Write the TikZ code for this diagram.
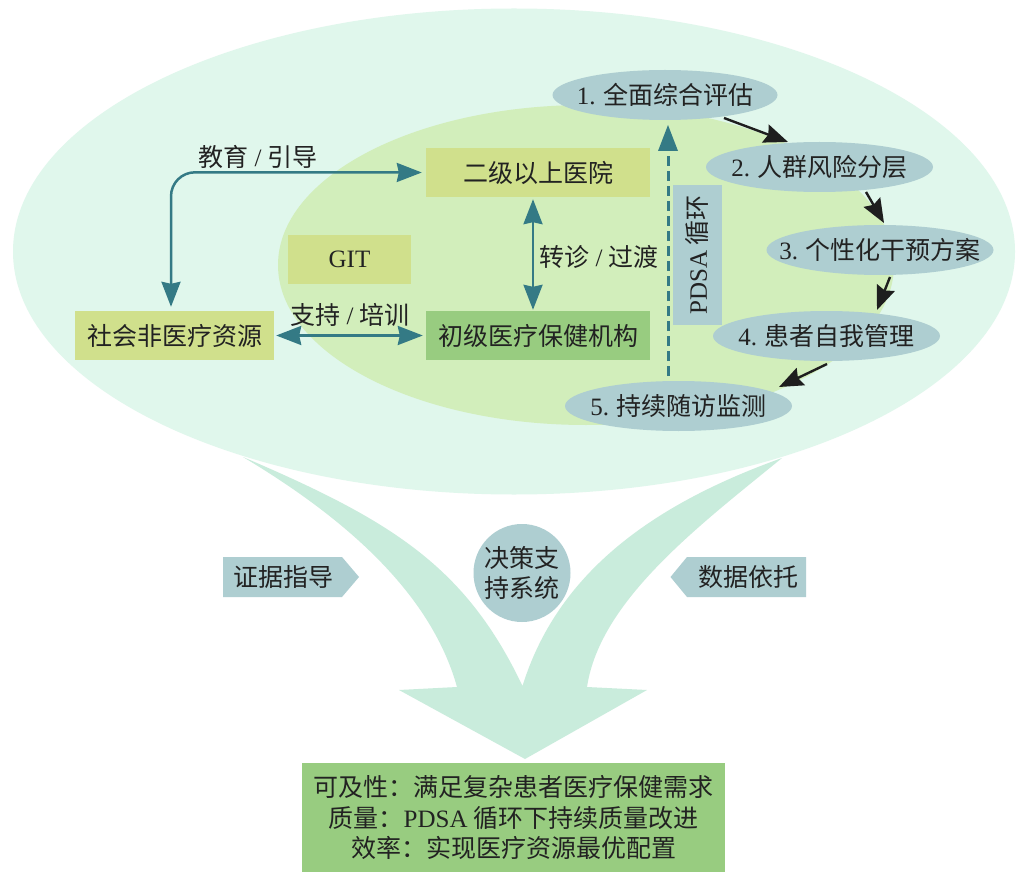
\documentclass[tikz,border=0pt]{standalone}
\usepackage{fontspec}
\usetikzlibrary{arrows.meta,shapes.geometric,calc}
\newfontfamily\cjk{Noto Sans CJK SC}
\newfontfamily\latn{Liberation Serif}
\definecolor{outerc}{HTML}{E0F7EC}
\definecolor{innerc}{HTML}{D2EEBB}
\definecolor{yellowc}{HTML}{D0E08C}
\definecolor{greenc}{HTML}{98CC80}
\definecolor{bluec}{HTML}{AECED1}
\definecolor{mintc}{HTML}{C9ECDC}
\definecolor{tealc}{HTML}{347A85}
\definecolor{blackc}{HTML}{1E1E1E}
\definecolor{textc}{HTML}{222222}
\tikzset{
  every node/.style={font=\fontsize{25}{30.5}\selectfont\cjk,text=textc,inner sep=0pt},
  boxy/.style={rectangle,minimum width=#1,minimum height=49pt},
  oval/.style={ellipse,fill=bluec,minimum width=227pt,minimum height=50pt},
  tealarrow/.style={draw=tealc,line width=2.5pt,{Stealth[length=25pt,width=19pt,inset=2pt]}-{Stealth[length=25pt,width=19pt,inset=2pt]}},
  blackarrow/.style={draw=blackc,line width=2.4pt,-{Stealth[length=24pt,width=19pt,inset=3pt]}},
}
\newcommand{\lm}[1]{{\latn #1}}
\newcommand{\ov}[1]{\makebox[0pt]{#1}}
\begin{document}
\begin{tikzpicture}[x=1pt,y=-1pt]
\path[use as bounding box,fill=white] (0,0) rectangle (1022,877);
% background ellipses
\node[ellipse,fill=outerc,minimum width=1002pt,minimum height=486pt] (outer) at (514,251.5) {};
\node[ellipse,fill=innerc,minimum width=616pt,minimum height=320pt] (inner) at (586,265) {};
% big merging arrow
\fill[mintc] (243,457) .. controls (390,520) and (465,565) .. (522.5,686)
  .. controls (560,565) and (665,500) .. (782,458)
  .. controls (700,525) and (600,600) .. (587,687)
  -- (647,690) -- (525,759) -- (399,690) -- (457,687)
  .. controls (430,590) and (340,515) .. (243,457) -- cycle;
% boxes
\node[boxy=224pt,fill=yellowc] (g2) at (538,172.5) {二级以上医院};
\node[boxy=123pt,fill=yellowc] (git) at (349.5,259.5) {\lm{GIT}};
\node[boxy=199pt,fill=yellowc] (soc) at (174.5,335.5) {社会非医疗资源};
\node[boxy=224pt,fill=greenc] (pri) at (538,335.5) {初级医疗保健机构};
\node[rectangle,fill=bluec,minimum width=49pt,minimum height=140pt] (pdsa) at (697.5,255) {\rotatebox{90}{\lm{PDSA} 循环}};
% ovals
\node[oval,minimum width=225pt] (e1) at (665,95) {\ov{\lm{1.} 全面综合评估}};
\node[oval] (e2) at (819.5,167) {\ov{\lm{2.} 人群风险分层}};
\node[oval] (e3) at (880,250) {\ov{\lm{3.} 个性化干预方案}};
\node[oval] (e4) at (826.5,336) {\ov{\lm{4.} 患者自我管理}};
\node[oval] (e5) at (678.5,406) {\ov{\lm{5.} 持续随访监测}};
% cycle arrows
\draw[blackarrow] ($(e1)+(59,23)$) -- ($(e2)+(-31.5,-25)$);
\draw[blackarrow] ($(e2)+(46.5,25)$) -- ($(e3)+(4,-27)$);
\draw[blackarrow] ($(e3)+(10,27)$) -- ($(e4)+(50.5,-26)$);
\draw[blackarrow] ($(e4)+(0.5,28)$) -- ($(e5)+(100.5,-19)$);
% teal connectors
\draw[tealarrow,rounded corners=24pt] ($(soc.north)+(-3.5,-4)$) -- ($(soc.north)+(-3.5,-138.5)$) -- ($(g2.west)+(-4,0)$);
\draw[tealarrow] ($(g2.south)+(-5,2)$) -- ($(pri.north)+(-5,-1)$);
\draw[tealarrow] ($(soc.east)+(2,0)$) -- ($(pri.west)+(-3,0)$);
\draw[draw=tealc,line width=3pt,dash pattern=on 10pt off 5pt] ($(e5)+(-10.5,-30)$) -- ($(e1)+(3,50)$);
\fill[tealc] ($(e1)+(3,30)$) coordinate (ptip) -- ++(10,26) -- ++(-20,0) -- cycle;
% connector labels
\node (l1) at (258,157) {教育 \lm{/} 引导};
\node (l2) at (350,315) {支持 \lm{/} 培训};
\node (l3) at (599,257) {转诊 \lm{/} 过渡};
% side tags
\fill[bluec] (223,557) -- (342,557) -- (359,577) -- (342,597) -- (223,597) -- cycle;
\node (t1) at (283,577) {证据指导};
\fill[bluec] (806,557) -- (687,557) -- (670.5,577) -- (687,597) -- (806,597) -- cycle;
\node (t2) at (748,577) {数据依托};
\node[ellipse,fill=bluec,minimum width=97pt,minimum height=98pt,align=center,inner sep=-12pt] (dss) at (522,573) {决策支\\持系统};
% outcome box
\node[rectangle,fill=greenc,minimum width=423pt,minimum height=109pt,align=center] (out) at (513.5,817.5) {可及性：满足复杂患者医疗保健需求\\质量：\lm{PDSA} 循环下持续质量改进\\效率：实现医疗资源最优配置};
\end{tikzpicture}
\end{document}
